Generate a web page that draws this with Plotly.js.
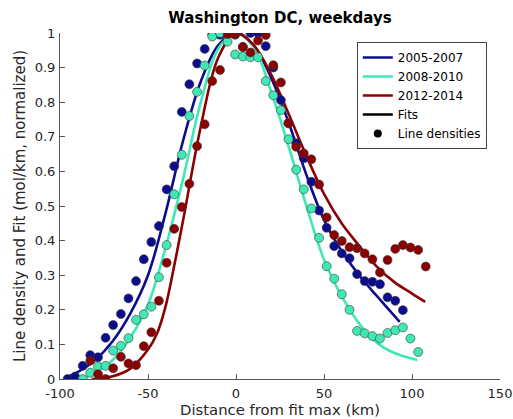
<!DOCTYPE html>
<html>
<head>
<meta charset="utf-8">
<script src="https://cdn.plot.ly/plotly-3.0.1.min.js"></script>
<style>html,body{margin:0;padding:0;background:#fff;}#chart{width:513px;height:419px;}</style>
</head>
<body>
<div id="chart"></div>
<script>
// Shared distance grid of the line-density points (km)
const distKm = [-95.7, -91.4, -87.1, -82.8, -78.4, -74.1, -69.8, -65.4, -61.1, -56.8,
  -52.4, -48.1, -43.8, -39.4, -35.1, -30.8, -26.5, -22.1, -17.8, -13.5,
  -9.1, -4.8, -0.5, 3.9, 8.2, 12.5, 16.9, 21.2, 25.5, 29.8,
  34.2, 38.5, 42.8, 47.2, 51.5, 55.8, 60.1, 64.5, 68.8, 73.1,
  77.5, 81.8, 86.1, 90.5, 94.8, 99.1, 103.5, 107.8];

// Line densities (normalized)
const dens0507 = [0.0, 0.007, 0.038, 0.069, 0.063, 0.119, 0.156, 0.188, 0.233, 0.283,
  0.346, 0.396, 0.442, 0.548, 0.615, 0.772, 0.852, 0.912, 0.954, 0.996,
  0.995, 0.995, 0.995, 0.96, 1.0, 1.0, 0.962, 0.90, 0.806, 0.74,
  0.681, 0.638, 0.570, 0.487, 0.437, 0.384, 0.363, 0.349, 0.303, 0.283,
  0.281, 0.274, 0.236, 0.226, 0.199, null, null, null];
const dens0810 = [null, null, 0.0, 0.018, 0.036, 0.038, 0.082, 0.096, 0.118, 0.171,
  0.187, 0.209, 0.294, 0.387, 0.534, 0.648, 0.760, 0.830, 0.906, 0.99,
  1.0, 0.975, 0.938, 0.932, 0.93, 0.93, 0.861, 0.82, 0.777, 0.693,
  0.605, 0.548, 0.493, 0.408, 0.326, 0.290, 0.245, 0.200, 0.139, 0.132,
  0.124, 0.117, 0.133, 0.141, 0.149, 0.117, 0.078, null];
const dens1214 = [null, null, null, 0.053, 0.014, 0.0, 0.031, 0.064, 0.045, 0.040,
  0.095, 0.135, 0.226, 0.336, 0.434, 0.497, 0.564, 0.673, 0.736, 0.861,
  0.893, 0.997, 0.997, 0.959, 0.944, 0.978, 0.994, 0.907, 0.857, 0.739,
  0.671, 0.652, 0.635, 0.562, 0.467, 0.416, 0.399, 0.381, 0.378, 0.363,
  0.346, 0.308, 0.344, 0.376, 0.387, 0.380, 0.373, 0.325];

// Fit curves
const fit0507X = [-96, -90, -80, -70, -60, -50, -40, -30, -20, -10, 0, 10, 20, 30, 40, 50, 60, 70, 80, 93];
const fit0507Y = [0.005, 0.02, 0.055, 0.11, 0.19, 0.30, 0.48, 0.69, 0.86, 0.965, 1.0, 0.965, 0.87, 0.74, 0.59, 0.46, 0.37, 0.30, 0.24, 0.165];
const fit0810X = [-87, -80, -70, -60, -50, -40, -30, -20, -10, 0, 10, 20, 30, 40, 50, 60, 70, 80, 90, 103];
const fit0810Y = [0.0, 0.02, 0.055, 0.12, 0.215, 0.38, 0.58, 0.80, 0.955, 1.0, 0.96, 0.83, 0.67, 0.50, 0.345, 0.24, 0.16, 0.105, 0.075, 0.055];
const fit1214X = [-82, -70, -60, -50, -45, -40, -35, -30, -20, -10, 0, 10, 20, 30, 40, 50, 60, 70, 80, 90, 100, 107.5];
const fit1214Y = [0.0, 0.008, 0.03, 0.085, 0.13, 0.21, 0.33, 0.46, 0.73, 0.93, 1.0, 0.965, 0.88, 0.765, 0.645, 0.535, 0.45, 0.385, 0.325, 0.28, 0.247, 0.223];

const seriesNames = ['2005-2007', '2008-2010', '2012-2014'];
const seriesColors = ['#0c0c8e', '#3fe8b4', '#8b0000'];
const xTicks = [-100, -50, 0, 50, 100, 150];
const yTicks = [0, 0.1, 0.2, 0.3, 0.4, 0.5, 0.6, 0.7, 0.8, 0.9, 1];

const fitsX = [fit0507X, fit0810X, fit1214X];
const fitsY = [fit0507Y, fit0810Y, fit1214Y];
const dens = [dens0507, dens0810, dens1214];

const traces = [];
for (let i = 0; i < 3; i++) {
  traces.push({
    x: fitsX[i], y: fitsY[i], type: 'scatter', mode: 'lines', name: seriesNames[i],
    line: {color: seriesColors[i], width: 2.6, shape: 'spline', smoothing: 1}, hoverinfo: 'skip'
  });
}
traces.push({x: [null], y: [null], type: 'scatter', mode: 'lines', name: 'Fits', line: {color: '#000', width: 2.6}});
traces.push({x: [null], y: [null], type: 'scatter', mode: 'markers', name: 'Line densities', marker: {color: '#000', size: 8}});
for (let i = 0; i < 3; i++) {
  traces.push({
    x: distKm, y: dens[i], type: 'scatter', mode: 'markers', showlegend: false,
    marker: {color: seriesColors[i], size: 9, line: {color: '#3a3a3a', width: 0.6}}
  });
}

const axisCommon = {
  showgrid: false, zeroline: false, showline: true, linecolor: '#555', linewidth: 1,
  ticks: 'inside', ticklen: 5, tickcolor: '#555', mirror: false,
  tickfont: {family: 'DejaVu Sans', size: 13, color: '#262626'}
};

const layout = {
  width: 513, height: 419,
  margin: {l: 60, r: 13, t: 33, b: 40},
  paper_bgcolor: '#fff', plot_bgcolor: '#fff',
  showlegend: true,
  title: {text: '<b>Washington DC, weekdays</b>', font: {family: 'DejaVu Sans', size: 15, color: '#000'},
          x: 0.5, xref: 'paper', y: 0.957, yref: 'container', yanchor: 'middle'},
  xaxis: Object.assign({}, axisCommon, {
    range: [-100, 150], tickvals: xTicks, ticktext: xTicks.map(String), ticklabelstandoff: 2,
    title: {text: 'Distance from fit max (km)', font: {family: 'DejaVu Sans', size: 14.8, color: '#262626'}, standoff: 4}
  }),
  yaxis: Object.assign({}, axisCommon, {
    range: [0, 1], tickvals: yTicks, ticktext: yTicks.map(String), ticklabelstandoff: 1,
    title: {text: 'Line density and Fit (mol/km, normalized)', font: {family: 'DejaVu Sans', size: 15, color: '#262626'}, standoff: 5}
  }),
  legend: {
    x: 0.97, xanchor: 'right', y: 0.974, yanchor: 'top',
    bgcolor: '#fff', bordercolor: '#444', borderwidth: 1,
    font: {family: 'DejaVu Sans', size: 12, color: '#000'},
    tracegroupgap: 0, itemwidth: 30
  }
};

Plotly.newPlot('chart', traces, layout, {displayModeBar: false, staticPlot: true});
</script>
</body>
</html>
